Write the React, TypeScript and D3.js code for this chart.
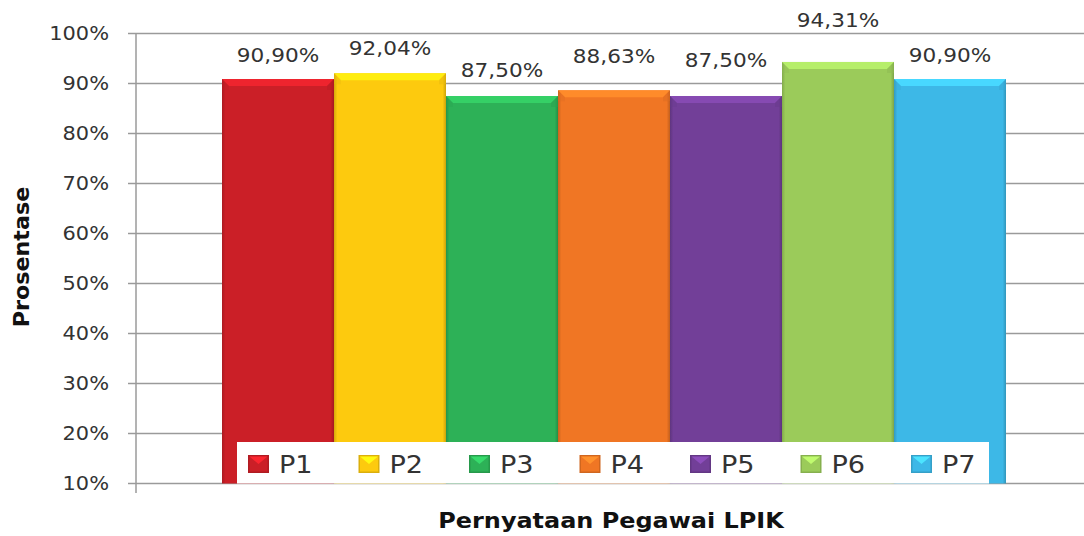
import React from "react";
import * as d3 from "d3";

// data
const categories = ["P1", "P2", "P3", "P4", "P5", "P6", "P7"];
const values = [90.9, 92.04, 87.5, 88.63, 87.5, 94.31, 90.9];
const valueLabels = ["90,90%", "92,04%", "87,50%", "88,63%", "87,50%", "94,31%", "90,90%"];
const yTicks = [10, 20, 30, 40, 50, 60, 70, 80, 90, 100];

const colors = ["#cb1f27", "#fdca0e", "#2db157", "#f07624", "#723f98", "#9bcb5a", "#3db8e7"];

// label lift above the bar top (excel nudges them around)
const labelLift = [17, 18, 19, 27, 29, 35, 17];

const W = 1084;
const H = 536;
const font = "'DejaVu Sans', Verdana, sans-serif";

// the original text is a bit wider than DejaVu, so stretch it horizontally
const Txt = ({ x, y, sx = 1.12, rotate = 0, children, ...rest }: any) => (
  <text
    transform={`translate(${x},${y}) rotate(${rotate}) scale(${sx},1)`}
    fontFamily={font}
    {...rest}
  >
    {children}
  </text>
);

const App = () => {
  const y = d3.scaleLinear().domain([10, 100]).range([483.5, 33.5]);
  const x = d3.scaleBand().domain(categories).range([222, 1006]).padding(0);
  const bw = x.bandwidth();
  const bev = 7;

  return (
    <svg width={W} height={H} style={{ position: "absolute", left: 0, top: 0, background: "#fff" }}>
      <defs>
        {colors.map((c, i) => (
          <linearGradient key={i} id={"side" + i} x1="0" x2="1" y1="0" y2="0">
            <stop offset="0" stopColor={d3.color(c).darker(0.5).toString()} />
            <stop offset="0.03" stopColor={c} />
            <stop offset="0.97" stopColor={c} />
            <stop offset="1" stopColor={d3.color(c).darker(0.6).toString()} />
          </linearGradient>
        ))}
      </defs>

      {/* gridlines + ticks */}
      {yTicks.map((t) => (
        <g key={t}>
          <line x1={128} x2={W} y1={y(t)} y2={y(t)} stroke="#9a9a9a" strokeWidth={1.5} />
          <Txt x={109} y={y(t)} sx={1.1} dy="0.36em" textAnchor="end" fontSize={19} fill="#333">
            {t}%
          </Txt>
        </g>
      ))}
      <line x1={136} x2={136} y1={y(100)} y2={493} stroke="#9a9a9a" strokeWidth={1.5} />

      {/* bars */}
      {categories.map((c, i) => {
        const x0 = x(c);
        const y0 = y(values[i]);
        const h = y(10) - y0;
        const light = d3.color(colors[i]).brighter(0.45).toString();
        const dark = d3.color(colors[i]).darker(0.25).toString();
        return (
          <g key={c}>
            <rect x={x0} y={y0} width={bw} height={h} fill={`url(#side${i})`} />
            <polygon
              points={`${x0},${y0} ${x0 + bw},${y0} ${x0 + bw - bev},${y0 + bev} ${x0 + bev},${y0 + bev}`}
              fill={light}
            />
            <polygon
              points={`${x0},${y0} ${x0 + bev},${y0 + bev} ${x0 + bev},${y0 + bev + 4} ${x0},${y0 + bev + 4}`}
              fill={dark}
              opacity={0.35}
            />
            <polygon
              points={`${x0 + bw},${y0} ${x0 + bw - bev},${y0 + bev} ${x0 + bw - bev},${y0 + bev + 4} ${x0 + bw},${y0 + bev + 4}`}
              fill={dark}
              opacity={0.5}
            />
            <Txt x={x0 + bw / 2} y={y0 - labelLift[i]} sx={1.08} textAnchor="middle" fontSize={20} fill="#333">
              {valueLabels[i]}
            </Txt>
          </g>
        );
      })}

      {/* legend */}
      <rect x={237} y={442} width={752} height={41.5} fill="#fff" />
      {categories.map((c, i) => {
        const lx = 248 + i * 110.5;
        const light = d3.color(colors[i]).brighter(0.6).toString();
        const dark = d3.color(colors[i]).darker(0.4).toString();
        return (
          <g key={"lg" + c}>
            <rect x={lx} y={455} width={21} height={18} fill={dark} />
            <rect x={lx + 1.5} y={456.5} width={18} height={15} fill={colors[i]} />
            <polygon
              points={`${lx + 1.5},${456.5} ${lx + 19.5},${456.5} ${lx + 10.5},${464}`}
              fill={light}
            />
            <Txt x={lx + 31} y={473} sx={1.13} fontSize={24} fill="#333">
              {c}
            </Txt>
          </g>
        );
      })}

      {/* axis titles */}
      <Txt x={29} y={257} rotate={-90} sx={1.06} textAnchor="middle" fontWeight="bold" fontSize={21} fill="#111">
        Prosentase
      </Txt>
      <Txt x={611} y={528} sx={1.14} textAnchor="middle" fontWeight="bold" fontSize={21} fill="#111">
        Pernyataan Pegawai LPIK
      </Txt>
    </svg>
  );
};

export default App;
